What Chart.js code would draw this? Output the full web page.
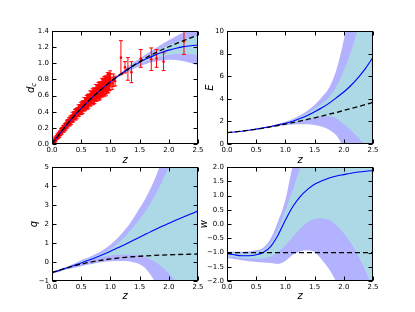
<!DOCTYPE html>
<html>
<head>
<meta charset="utf-8">
<script src="https://cdn.jsdelivr.net/npm/chart.js@4"></script>
<style>
html, body { margin: 0; padding: 0; background: #fff; }
#wrap { position: relative; width: 415px; height: 312px; overflow: hidden; }
canvas { position: absolute; }
</style>
</head>
<body>
<div id="wrap">
<canvas id="pA" width="207" height="166" style="left:0;top:0"></canvas>
<canvas id="pB" width="215" height="166" style="left:200px;top:0"></canvas>
<canvas id="pC" width="207" height="152" style="left:0;top:160px"></canvas>
<canvas id="pD" width="220" height="152" style="left:195px;top:160px"></canvas>
</div>
<script>
// redshift grid shared by all reconstructed curves
const zGrid = [0, 0.125, 0.25, 0.375, 0.5, 0.625, 0.75, 0.875, 1.0, 1.125, 1.25, 1.375, 1.5, 1.625, 1.75, 1.875, 2.0, 2.125, 2.25, 2.375, 2.5];

// d_c panel
const dcLcdm = [0, 0.121, 0.236, 0.344, 0.441, 0.532, 0.617, 0.696, 0.770, 0.838, 0.902, 0.962, 1.018, 1.075, 1.122, 1.165, 1.205, 1.243, 1.280, 1.315, 1.348];
const dcFit  = [0, 0.121, 0.236, 0.344, 0.441, 0.532, 0.617, 0.696, 0.770, 0.838, 0.901, 0.960, 1.012, 1.058, 1.098, 1.133, 1.163, 1.187, 1.206, 1.218, 1.225];
const dcUp2  = [0, 0.122, 0.238, 0.347, 0.445, 0.537, 0.623, 0.704, 0.782, 0.856, 0.927, 0.996, 1.060, 1.121, 1.178, 1.233, 1.285, 1.334, 1.380, 1.423, 1.475];
const dcLo2  = [0, 0.120, 0.234, 0.341, 0.437, 0.527, 0.611, 0.688, 0.758, 0.820, 0.875, 0.924, 0.964, 0.995, 1.018, 1.035, 1.045, 1.042, 1.025, 1.005, 0.975];
const dcUp1  = [0, 0.1215, 0.237, 0.3455, 0.443, 0.5345, 0.620, 0.700, 0.776, 0.847, 0.914, 0.978, 1.036, 1.090, 1.138, 1.183, 1.224, 1.261, 1.293, 1.321, 1.350];
const dcLo1  = [0, 0.1205, 0.235, 0.3425, 0.439, 0.5295, 0.614, 0.692, 0.764, 0.829, 0.888, 0.942, 0.988, 1.027, 1.058, 1.083, 1.102, 1.114, 1.119, 1.116, 1.100];

// distance measurements with error bars (first sample)
const snZ = [0.01,0.02,0.03,0.04,0.05,0.06,0.07,0.08,0.09,0.10,0.11,0.12,0.13,0.14,0.15,0.16,0.17,0.18,0.19,0.20,
  0.21,0.22,0.23,0.24,0.25,0.26,0.27,0.28,0.29,0.30,0.31,0.32,0.33,0.34,0.35,0.36,0.37,0.38,0.39,0.40,
  0.42,0.43,0.44,0.45,0.46,0.47,0.48,0.49,0.50,
  0.52,0.53,0.54,0.55,0.56, 0.58,0.59,0.60, 0.62,0.63,0.64,0.65, 0.67,0.68,0.69,0.70, 0.72,0.73,0.74,0.75,
  0.77,0.78,0.79,0.80, 0.82,0.83, 0.85,0.86, 0.88,0.89,0.90, 0.92,0.93, 0.95,0.96, 0.98,1.00,
  1.03,1.05,1.08, 1.18,1.25,1.30,1.36, 1.52,1.70,1.79,1.91,2.26];
const snDc = [0.010,0.022,0.028,0.041,0.047,0.061,0.066,0.081,0.085,0.101,0.104,0.121,0.124,0.140,0.141,0.158,0.160,0.178,0.179,0.198,
  0.196,0.217,0.214,0.236,0.230,0.254,0.250,0.271,0.266,0.292,0.283,0.306,0.300,0.322,0.316,0.340,0.330,0.352,0.346,0.370,
  0.368,0.392,0.383,0.414,0.398,0.428,0.412,0.445,0.428,
  0.462,0.450,0.482,0.465,0.498, 0.485,0.522,0.500, 0.545,0.520,0.560,0.535, 0.580,0.548,0.598,0.565, 0.620,0.580,0.638,0.592,
  0.655,0.610,0.672,0.622, 0.690,0.640, 0.712,0.655, 0.735,0.668,0.752, 0.690,0.775, 0.705,0.790, 0.730,0.800,
  0.752,0.790,0.780, 1.07,0.95,0.93,0.89, 1.06,1.05,1.06,1.02,1.27];
const snErr = [0.005,0.005,0.006,0.006,0.007,0.007,0.008,0.008,0.009,0.009,0.010,0.010,0.011,0.011,0.012,0.012,0.013,0.013,0.014,0.014,
  0.015,0.015,0.016,0.016,0.017,0.017,0.018,0.018,0.019,0.019,0.020,0.020,0.021,0.021,0.022,0.022,0.023,0.023,0.024,0.024,
  0.026,0.026,0.027,0.027,0.028,0.028,0.029,0.029,0.030,
  0.031,0.032,0.032,0.033,0.034, 0.035,0.036,0.037, 0.038,0.039,0.040,0.041, 0.042,0.043,0.044,0.045, 0.046,0.047,0.048,0.049,
  0.050,0.051,0.052,0.053, 0.054,0.055, 0.057,0.058, 0.060,0.061,0.062, 0.064,0.065, 0.067,0.068, 0.070,0.072,
  0.075,0.078,0.060, 0.21,0.07,0.14,0.13, 0.11,0.14,0.11,0.11,0.16];

// second sample, interleaved in redshift, larger errors
const sn2Z = [0.015,0.025,0.035,0.045,0.055,0.065,0.075,0.085,0.095,0.105,
  0.115,0.125,0.135,0.145,0.155,0.165,0.175,0.185,0.195,0.205,
  0.215,0.225,0.235,0.245,0.255,0.265,0.275,0.285,0.295,0.305,
  0.315,0.325,0.335,0.345,0.355,0.365,0.375,0.385,0.395,0.405,
  0.415,0.425,0.435,0.445,0.455,0.465,0.475,0.485,0.495,0.505,
  0.515,0.525,0.535,0.545,0.555,0.565,0.575,0.585,0.595,0.605,
  0.615,0.625,0.635,0.645,0.655,0.665,0.675,0.685,0.695,0.705,
  0.715,0.725,0.735,0.745,0.755,0.765,0.775,0.785,0.795,0.805,
  0.815,0.825,0.835,0.845,0.855,0.865,0.875,0.885,0.895,0.905,
  0.915,0.925,0.935,0.945,0.955,0.965,0.975,0.985,0.995];
const sn2Dc = [0.021,0.015,0.037,0.041,0.066,0.056,0.079,0.082,0.103,0.090,
  0.120,0.109,0.134,0.134,0.165,0.149,0.174,0.175,0.198,0.180,
  0.215,0.199,0.226,0.224,0.257,0.237,0.265,0.265,0.290,0.265,
  0.304,0.283,0.314,0.310,0.348,0.320,0.352,0.350,0.378,0.346,
  0.389,0.364,0.397,0.391,0.431,0.400,0.434,0.430,0.460,0.423,
  0.470,0.440,0.476,0.468,0.512,0.475,0.512,0.505,0.537,0.495,
  0.547,0.512,0.550,0.540,0.587,0.545,0.584,0.576,0.610,0.562,
  0.619,0.578,0.619,0.608,0.659,0.610,0.653,0.643,0.680,0.625,
  0.686,0.641,0.685,0.671,0.726,0.672,0.717,0.705,0.744,0.684,
  0.749,0.700,0.746,0.730,0.789,0.730,0.778,0.764,0.806];
const sn2Err = [0.016,0.017,0.018,0.019,0.020,0.021,0.021,0.022,0.023,0.024,
  0.025,0.026,0.026,0.027,0.028,0.029,0.030,0.031,0.032,0.032,
  0.033,0.034,0.035,0.036,0.037,0.037,0.038,0.039,0.040,0.041,
  0.042,0.043,0.043,0.044,0.045,0.046,0.047,0.048,0.049,0.049,
  0.050,0.051,0.052,0.053,0.054,0.055,0.055,0.056,0.057,0.058,
  0.059,0.060,0.060,0.061,0.062,0.063,0.064,0.065,0.066,0.066,
  0.067,0.068,0.069,0.070,0.071,0.072,0.072,0.073,0.074,0.075,
  0.076,0.077,0.077,0.078,0.079,0.080,0.081,0.082,0.083,0.083,
  0.084,0.085,0.086,0.087,0.088,0.089,0.089,0.090,0.091,0.092,
  0.093,0.094,0.094,0.095,0.096,0.097,0.098,0.099,0.100];

// E panel
const eLcdm = [1.0, 1.062, 1.134, 1.217, 1.309, 1.410, 1.519, 1.636, 1.761, 1.892, 2.029, 2.173, 2.321, 2.475, 2.634, 2.798, 2.966, 3.139, 3.317, 3.497, 3.683];
const eFit  = [1.0, 1.06, 1.13, 1.22, 1.32, 1.43, 1.55, 1.69, 1.84, 2.02, 2.25, 2.52, 2.85, 3.2, 3.62, 4.1, 4.6, 5.2, 5.9, 6.72, 7.67];
const eUp2  = [1.0, 1.065, 1.14, 1.235, 1.34, 1.46, 1.59, 1.76, 1.97, 2.22, 2.55, 2.95, 3.45, 4.15, 5.0, 6.6, 9.2, 12.5, 17, 22, 28];
const eLo2  = [1.0, 1.055, 1.12, 1.205, 1.30, 1.40, 1.505, 1.59, 1.66, 1.72, 1.75, 1.74, 1.68, 1.52, 1.25, 0.75, -0.4, -1.8, -3.5, -5.5, -8];
const eUp1  = [1.0, 1.062, 1.135, 1.227, 1.33, 1.445, 1.57, 1.72, 1.9, 2.12, 2.4, 2.72, 3.1, 3.58, 4.15, 5.1, 6.5, 8.2, 10.5, 13.5, 17];
const eLo1  = [1.0, 1.058, 1.125, 1.213, 1.31, 1.415, 1.53, 1.65, 1.76, 1.9, 2.02, 2.15, 2.3, 2.42, 2.45, 2.25, 1.74, 1.2, 0.56, -0.2, -1.2];

// q panel
const qLcdm = [-0.55, -0.432, -0.316, -0.209, -0.113, -0.028, 0.045, 0.108, 0.161, 0.207, 0.245, 0.278, 0.305, 0.329, 0.349, 0.366, 0.381, 0.393, 0.405, 0.414, 0.423];
const qFit  = [-0.56, -0.44, -0.31, -0.18, -0.05, 0.09, 0.24, 0.40, 0.57, 0.75, 0.93, 1.12, 1.31, 1.50, 1.69, 1.87, 2.04, 2.21, 2.37, 2.53, 2.70];
const qUp2  = [-0.52, -0.39, -0.25, -0.09, 0.10, 0.24, 0.42, 0.64, 0.91, 1.27, 1.70, 2.22, 2.83, 3.5, 4.3, 5.3, 6.4, 7.6, 9, 10.5, 12];
const qLo2  = [-0.62, -0.51, -0.40, -0.31, -0.22, -0.13, -0.06, 0.0, 0.04, 0.06, 0.05, 0.0, -0.12, -0.42, -0.98, -1.8, -2.8, -4, -5, -6, -7];
const qUp1  = [-0.54, -0.415, -0.28, -0.14, 0.03, 0.16, 0.32, 0.49, 0.69, 0.98, 1.35, 1.77, 2.25, 2.8, 3.43, 4.18, 5.02, 5.95, 7, 8.1, 9.3];
const qLo1  = [-0.58, -0.46, -0.34, -0.22, -0.09, 0.06, 0.18, 0.28, 0.34, 0.38, 0.39, 0.38, 0.34, 0.22, 0.04, -0.24, -0.6, -1.05, -1.6, -2.2, -2.9];

// w panel
const wLcdm = [-1, -1, -1, -1, -1, -1, -1, -1, -1, -1, -1, -1, -1, -1, -1, -1, -1, -1, -1, -1, -1];
const wFit  = [-1.04, -1.08, -1.11, -1.11, -1.08, -0.99, -0.78, -0.38, 0.14, 0.61, 0.96, 1.21, 1.40, 1.52, 1.62, 1.69, 1.74, 1.79, 1.83, 1.86, 1.88];
const wUp2  = [-0.97, -0.97, -0.97, -0.96, -0.92, -0.82, -0.5, 0.1, 0.85, 2.05, 2.9, 3.8, 4.5, 5.0, 5.4, 5.7, 6.0, 6.2, 6.4, 6.5, 6.6];
const wLo2  = [-1.19, -1.23, -1.27, -1.31, -1.33, -1.35, -1.37, -1.40, -1.30, -1.08, -0.96, -0.92, -0.99, -1.25, -1.59, -2.05, -2.6, -3.2, -3.9, -4.6, -5.4];
const wUp1  = [-1.0, -1.02, -1.04, -1.03, -0.99, -0.9, -0.67, -0.2, 0.49, 1.2, 1.95, 2.6, 3.1, 3.4, 3.6, 3.75, 3.85, 3.9, 3.95, 4.0, 4.0];
const wLo1  = [-1.13, -1.16, -1.19, -1.21, -1.22, -1.21, -1.14, -0.98, -0.74, -0.45, -0.16, 0.06, 0.18, 0.21, 0.14, -0.05, -0.32, -0.68, -1.13, -1.65, -2.3];

const xTicks = [0, 0.5, 1.0, 1.5, 2.0, 2.5];

const LAVENDER = "#b2b2ff";
const LIGHTBLUE = "#add8e6";
const FONT = "DejaVu Sans";

Chart.defaults.color = "#000";
Chart.defaults.font.family = FONT;

const pts = (ys) => zGrid.map((z, i) => ({ x: z, y: ys[i] }));
const minus = (s) => s.replace("-", "\u2212");

function curveSets(up2, lo2, up1, lo1, fit, lcdm) {
	const edge = { borderWidth: 0, pointRadius: 0, cubicInterpolationMode: "monotone" };
	return [
		{ ...edge, data: pts(up2), fill: "+1", backgroundColor: LAVENDER, order: 6 },
		{ ...edge, data: pts(lo2), fill: false, order: 6 },
		{ ...edge, data: pts(up1), fill: "+1", backgroundColor: LIGHTBLUE, order: 5 },
		{ ...edge, data: pts(lo1), fill: false, order: 5 },
		{ data: pts(fit), borderColor: "#0000ff", borderWidth: 1.1, pointRadius: 0, fill: false, cubicInterpolationMode: "monotone", order: 2 },
		{ data: pts(lcdm), borderColor: "#000", borderWidth: 1.3, borderDash: [5, 3], pointRadius: 0, fill: false, cubicInterpolationMode: "monotone", order: 1 },
	];
}

function errorSet(zs, ds, errs) {
	return {
		data: zs.map((z, i) => ({ x: z, y: ds[i] })),
		errors: errs,
		showLine: false,
		pointRadius: 1.3,
		pointBorderWidth: 0,
		pointBackgroundColor: "#ff0000",
		order: 3,
	};
}

// matplotlib style box with inward ticks, plus error bars and subscript label
const boxPlugin = {
	id: "box",
	afterDatasetDraw(chart, args) {
		const ds = chart.data.datasets[args.index];
		if (!ds.errors) return;
		const { ctx, chartArea: a, scales } = chart;
		ctx.save();
		ctx.beginPath();
		ctx.rect(a.left, a.top, a.right - a.left, a.bottom - a.top);
		ctx.clip();
		ctx.strokeStyle = "#ff0000";
		ctx.lineWidth = 1;
		ds.data.forEach((p, i) => {
			const px = scales.x.getPixelForValue(p.x);
			const y0 = scales.y.getPixelForValue(p.y - ds.errors[i]);
			const y1 = scales.y.getPixelForValue(p.y + ds.errors[i]);
			ctx.beginPath();
			ctx.moveTo(px, y0); ctx.lineTo(px, y1);
			ctx.moveTo(px - 2, y0); ctx.lineTo(px + 2, y0);
			ctx.moveTo(px - 2, y1); ctx.lineTo(px + 2, y1);
			ctx.stroke();
		});
		ctx.restore();
	},
	afterDraw(chart, args, opts) {
		const { ctx, chartArea: a, scales } = chart;
		const L = Math.round(a.left) + 0.5, R = Math.round(a.right) - 0.5;
		const T = Math.round(a.top) + 0.5, B = Math.round(a.bottom) - 0.5;
		ctx.save();
		ctx.strokeStyle = "#000";
		ctx.lineWidth = 1;
		ctx.beginPath();
		scales.x.ticks.forEach((t) => {
			const px = Math.round(scales.x.getPixelForValue(t.value)) + 0.5;
			ctx.moveTo(px, B); ctx.lineTo(px, B - 4);
			ctx.moveTo(px, T); ctx.lineTo(px, T + 4);
		});
		scales.y.ticks.forEach((t) => {
			const py = Math.round(scales.y.getPixelForValue(t.value)) + 0.5;
			ctx.moveTo(L, py); ctx.lineTo(L + 4, py);
			ctx.moveTo(R, py); ctx.lineTo(R - 4, py);
		});
		ctx.stroke();
		ctx.strokeRect(L, T, R - L, B - T);
		if (opts.label) {
			const lb = opts.label;
			ctx.translate(lb.x, lb.y);
			ctx.rotate(-Math.PI / 2);
			ctx.fillStyle = "#000";
			ctx.textBaseline = "middle";
			ctx.font = "italic 10px " + FONT;
			const w1 = ctx.measureText(lb.text).width;
			ctx.font = "italic 7px " + FONT;
			const w2 = ctx.measureText(lb.sub).width;
			const x0 = -(w1 + w2) / 2;
			ctx.font = "italic 10px " + FONT;
			ctx.fillText(lb.text, x0, 0);
			ctx.font = "italic 7px " + FONT;
			ctx.fillText(lb.sub, x0 + w1, 3);
		}
		ctx.restore();
	},
};

function makeChart(id, cfg) {
	const tickFont = { family: FONT, size: 7 };
	const titleFont = { family: FONT, size: 10, style: "italic" };
	return new Chart(document.getElementById(id), {
		type: "line",
		data: { datasets: cfg.datasets },
		plugins: [boxPlugin],
		options: {
			responsive: false,
			animation: false,
			events: [],
			layout: { padding: cfg.pad },
			plugins: { legend: { display: false }, tooltip: { enabled: false }, box: { label: cfg.label } },
			scales: {
				x: {
					type: "linear", min: 0, max: 2.5,
					afterBuildTicks: (s) => { s.ticks = xTicks.map((v) => ({ value: v })); },
					afterFit: (s) => { s.height = cfg.xH; },
					grid: { display: false, drawTicks: false },
					border: { display: false },
					ticks: { font: tickFont, padding: 2, maxRotation: 0, callback: (v) => v.toFixed(1) },
					title: { display: true, text: "z", font: titleFont, padding: 0 },
				},
				y: {
					type: "linear", min: cfg.yMin, max: cfg.yMax,
					afterBuildTicks: (s) => { s.ticks = cfg.yTicks.map((v) => ({ value: v })); },
					afterFit: (s) => { s.width = cfg.yW; },
					grid: { display: false, drawTicks: false },
					border: { display: false },
					ticks: { font: tickFont, padding: 3, callback: cfg.yFmt },
					title: { display: !!cfg.yTitle, text: cfg.yTitle || "", font: titleFont, padding: 0 },
				},
			},
		},
	});
}

makeChart("pA", {
	datasets: [
		...curveSets(dcUp2, dcLo2, dcUp1, dcLo1, dcFit, dcLcdm),
		errorSet(snZ, snDc, snErr),
		errorSet(sn2Z, sn2Dc, sn2Err),
	],
	pad: { left: 0, right: 9, top: 31, bottom: 0 },
	yW: 52, xH: 22,
	yMin: 0, yMax: 1.4, yTicks: [0, 0.2, 0.4, 0.6, 0.8, 1.0, 1.2, 1.4],
	yFmt: (v) => v.toFixed(1),
	label: { x: 31, y: 88, text: "d", sub: "c" },
});

makeChart("pB", {
	datasets: curveSets(eUp2, eLo2, eUp1, eLo1, eFit, eLcdm),
	pad: { left: 4, right: 42, top: 31, bottom: 0 },
	yW: 23, xH: 22,
	yMin: 0, yMax: 10, yTicks: [0, 2, 4, 6, 8, 10],
	yFmt: (v) => String(v),
	yTitle: "E",
});

makeChart("pC", {
	datasets: curveSets(qUp2, qLo2, qUp1, qLo1, qFit, qLcdm),
	pad: { left: 28, right: 9, top: 6, bottom: 9.5 },
	yW: 24, xH: 21.5,
	yMin: -1, yMax: 5, yTicks: [-1, 0, 1, 2, 3, 4, 5],
	yFmt: (v) => minus(String(v)),
	yTitle: "q",
});

makeChart("pD", {
	datasets: curveSets(wUp2, wLo2, wUp1, wLo1, wFit, wLcdm),
	pad: { left: 3, right: 42, top: 6, bottom: 9.5 },
	yW: 29, xH: 21.5,
	yMin: -2, yMax: 2, yTicks: [-2, -1.5, -1, -0.5, 0, 0.5, 1, 1.5, 2],
	yFmt: (v) => minus(v.toFixed(1)),
	yTitle: "w",
});
</script>
</body>
</html>
